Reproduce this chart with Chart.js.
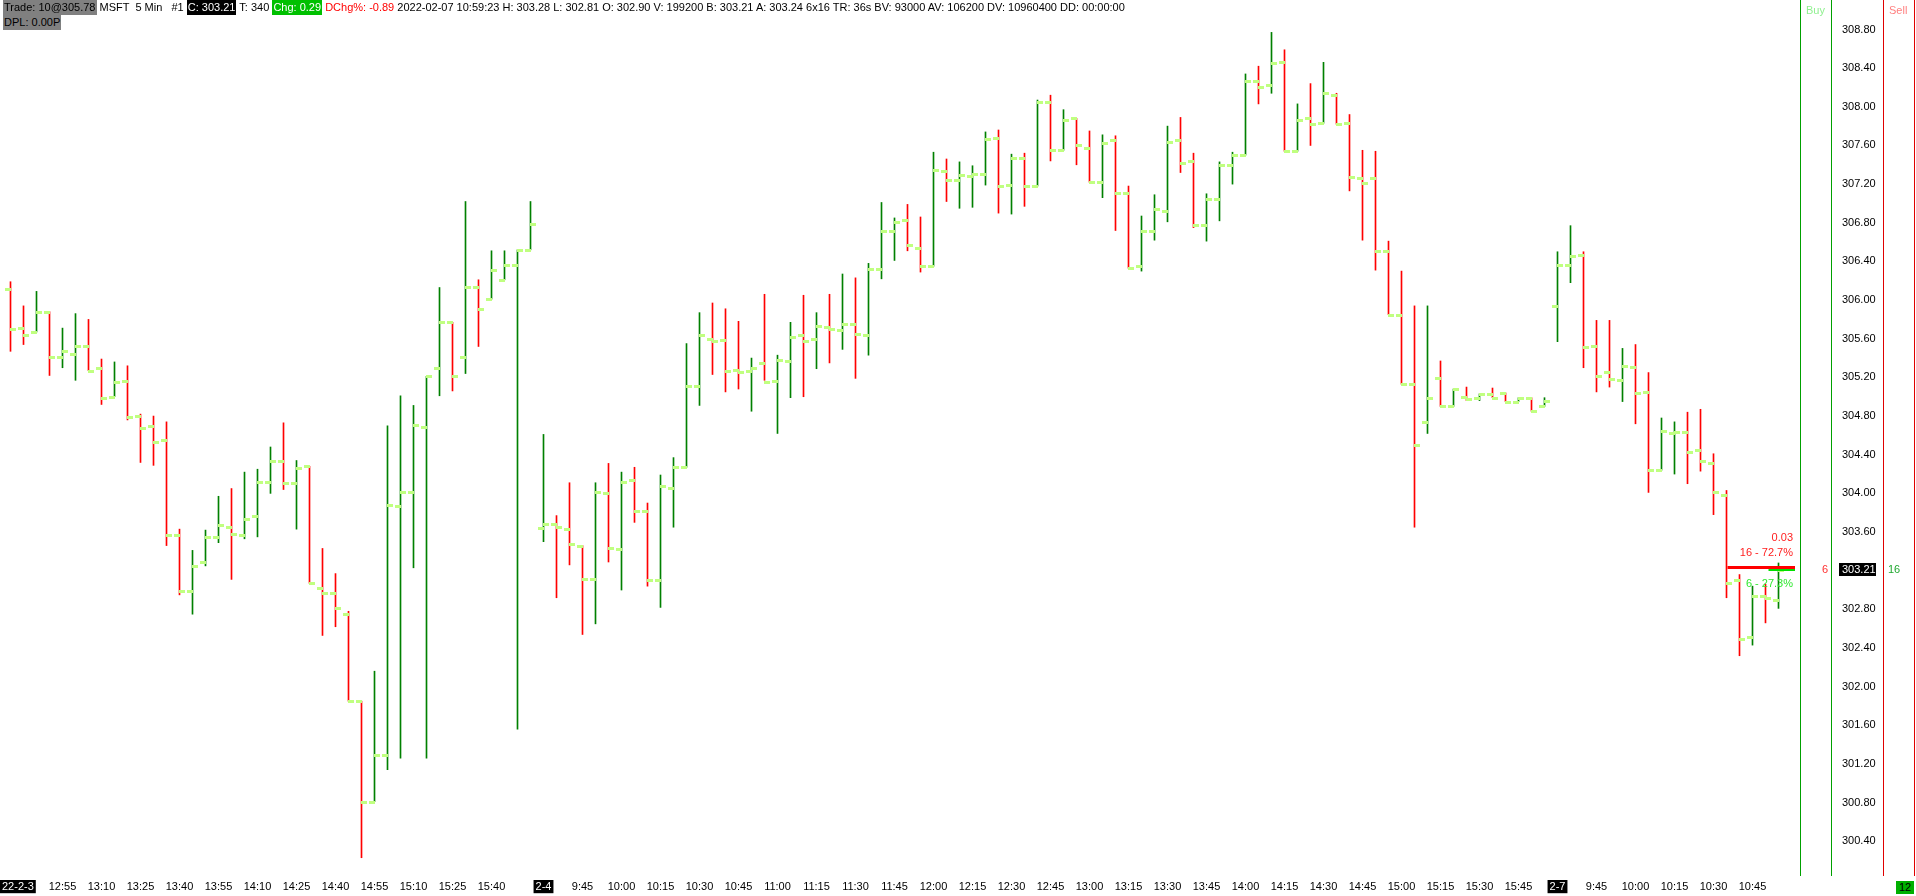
<!DOCTYPE html>
<html>
<head>
<meta charset="utf-8">
<title>MSFT 5 Min</title>
<script src="https://cdn.jsdelivr.net/npm/chart.js@4.4.1/dist/chart.umd.min.js"></script>
<style>
  html, body { margin: 0; padding: 0; background: #fff; }
  #wrap { position: relative; width: 1916px; height: 896px; overflow: hidden;
          font-family: 'Liberation Sans', Arial, sans-serif; font-size: 11px; }
  #wrap canvas { position: absolute; left: 0; top: 0; }
  .hdr { position: absolute; left: 3px; white-space: pre; line-height: 15px; height: 15px; color: #000; z-index: 2; }
  .box { display: inline-block; height: 15px; line-height: 15px; padding: 0 1px; }
  .gy { background: #808080; }
  .bk { background: #000; color: #fff; }
  .gn { background: #00c000; color: #fff; }
  .rd { color: #ff0000; }
  .vl { position: absolute; top: 0; width: 1px; height: 876px; z-index: 2; }
  .lbl { position: absolute; top: 4px; z-index: 2; }
</style>
</head>
<body>
<div id="wrap">
  <canvas id="ohlcChart"></canvas>
  <div class="hdr" style="top:0"><span class="box gy">Trade: 10@305.78</span> MSFT  5 Min   #1 <span class="box bk">C: 303.21</span> T: 340 <span class="box gn">Chg: 0.29</span> <span class="rd">DChg%: -0.89</span> 2022-02-07 10:59:23 H: 303.28 L: 302.81 O: 302.90 V: 199200 B: 303.21 A: 303.24 6x16 TR: 36s BV: 93000 AV: 106200 DV: 10960400 DD: 00:00:00</div>
  <div class="hdr" style="top:15px"><span class="box gy">DPL: 0.00P</span></div>
  <div class="vl" style="left:1800px;background:#00a000"></div>
  <div class="vl" style="left:1831px;background:#00a000"></div>
  <div class="vl" style="left:1883px;background:#e00000"></div>
  <div class="vl" style="left:1914px;background:#e00000"></div>
  <div class="lbl" style="left:1806px;color:#90f090">Buy</div>
  <div class="lbl" style="left:1889px;color:#ff8080">Sell</div>
  <div style="position:absolute;left:1896px;top:881px;width:18px;height:13px;line-height:13px;background:#00b000;color:#000;text-align:center;z-index:2">12</div>
</div>
<script>
// 5 min bars: 2022-02-03 12:35-15:55, 2022-02-04 9:30-15:55, 2022-02-07 9:30-10:55
const opens = [
  306.11, 305.71, 305.67, 305.88, 305.41, 305.44, 305.52, 305.30, 305.00, 305.16,
  304.80, 304.70, 304.55, 303.57, 302.99, 303.29, 303.55, 303.65, 303.57, 303.77,
  304.12, 304.34, 304.11, 304.28, 303.02, 302.97, 302.75, 301.85, 300.81, 301.29,
  303.87, 304.01, 304.69, 305.30, 305.77, 305.41, 306.14, 306.01, 306.21, 306.36,
  306.52,
  303.64, 303.68, 303.63, 303.46, 303.11, 304.00, 303.42, 304.14, 303.82, 303.10,
  304.06, 304.27, 305.11, 305.60, 305.59, 305.28, 305.27, 305.35, 305.16, 305.37,
  305.64, 305.60, 305.72, 305.69, 305.75, 305.64, 306.32, 306.72, 306.83, 306.54,
  306.35, 307.34, 307.24, 307.28, 307.30, 307.68, 307.19, 307.47, 307.18, 308.05,
  307.55, 307.88, 307.57, 307.22, 307.66, 307.11, 306.35, 306.71, 306.92, 307.66,
  307.44, 306.78, 307.05, 307.40, 307.50, 308.27, 308.23, 308.46, 307.54, 307.88,
  307.83, 308.12, 307.83, 307.26, 307.26, 306.51, 305.85, 305.13, 304.74, 305.19,
  304.90, 305.00, 304.99, 305.03, 305.04, 304.95, 304.99, 304.90,
  305.94, 306.36, 306.47, 305.53, 305.26, 305.17, 305.31, 305.05, 304.24, 304.62,
  304.64, 304.45, 304.31, 303.98, 303.10, 302.51, 302.94, 302.90
];
const highs = [
  306.19, 305.94, 306.09, 305.88, 305.71, 305.86, 305.80, 305.39, 305.36, 305.32,
  304.82, 304.80, 304.74, 303.63, 303.41, 303.62, 303.97, 304.05, 304.22, 304.25,
  304.48, 304.73, 304.34, 304.28, 303.43, 303.17, 302.78, 301.85, 302.16, 304.70,
  305.01, 304.91, 305.21, 306.13, 305.77, 307.02, 306.21, 306.51, 306.51, 306.52,
  307.02,
  304.61, 303.77, 304.11, 303.46, 304.11, 304.31, 304.22, 304.27, 303.90, 304.19,
  304.37, 305.55, 305.87, 305.97, 305.91, 305.78, 305.40, 306.06, 305.43, 305.77,
  306.05, 305.87, 306.06, 306.27, 306.23, 306.38, 307.01, 306.85, 306.99, 306.86,
  307.53, 307.46, 307.43, 307.39, 307.74, 307.76, 307.51, 307.52, 308.07, 308.12,
  307.97, 307.88, 307.75, 307.71, 307.70, 307.18, 306.87, 307.09, 307.80, 307.89,
  307.52, 307.10, 307.43, 307.53, 308.34, 308.42, 308.77, 308.59, 308.03, 308.24,
  308.46, 308.14, 307.92, 307.55, 307.54, 306.61, 306.30, 305.94, 305.94, 305.37,
  305.08, 305.10, 305.03, 305.09, 305.04, 304.99, 304.99, 304.99,
  306.50, 306.77, 306.50, 305.79, 305.79, 305.50, 305.54, 305.25, 304.78, 304.74,
  304.84, 304.87, 304.41, 304.03, 303.16, 303.04, 303.06, 303.28
];
const lows = [
  305.47, 305.54, 305.67, 305.22, 305.30, 305.17, 305.27, 304.92, 305.00, 304.76,
  304.32, 304.29, 303.46, 302.95, 302.75, 303.25, 303.49, 303.11, 303.53, 303.55,
  304.00, 304.04, 303.63, 303.07, 302.53, 302.62, 301.85, 300.23, 300.81, 301.14,
  301.26, 303.23, 301.26, 305.01, 305.06, 305.24, 305.52, 306.01, 306.21, 301.56,
  306.52,
  303.50, 302.92, 303.26, 302.54, 302.65, 303.29, 303.00, 303.70, 303.04, 302.82,
  303.65, 304.27, 304.91, 305.23, 305.05, 305.08, 304.85, 305.17, 304.62, 304.99,
  305.00, 305.29, 305.35, 305.49, 305.19, 305.43, 306.22, 306.41, 306.51, 306.29,
  306.35, 307.02, 306.95, 306.96, 307.19, 306.90, 306.89, 306.97, 307.18, 307.44,
  307.55, 307.40, 307.22, 307.06, 306.72, 306.33, 306.30, 306.62, 306.81, 307.32,
  306.75, 306.61, 306.82, 307.20, 307.50, 308.03, 308.14, 307.54, 307.54, 307.60,
  307.83, 307.82, 307.13, 306.62, 306.31, 305.85, 305.13, 303.65, 304.62, 304.90,
  304.90, 304.96, 304.96, 304.99, 304.95, 304.95, 304.85, 304.90,
  305.57, 306.18, 305.30, 305.05, 305.10, 304.95, 304.72, 304.01, 304.24, 304.20,
  304.10, 304.23, 303.78, 302.92, 302.32, 302.43, 302.66, 302.81
];
const closes = [
  305.70, 305.64, 305.88, 305.41, 305.47, 305.53, 305.27, 304.99, 305.15, 304.79,
  304.68, 304.53, 303.57, 302.99, 303.25, 303.55, 303.67, 303.58, 303.74, 304.12,
  304.34, 304.11, 304.26, 303.07, 302.97, 302.81, 301.85, 300.81, 301.29, 303.88,
  304.01, 304.71, 305.21, 305.77, 305.21, 306.14, 305.91, 306.31, 306.36, 306.52,
  306.79,
  303.68, 303.65, 303.48, 303.11, 304.01, 303.43, 304.12, 303.82, 303.10, 304.08,
  304.27, 305.11, 305.64, 305.58, 305.27, 305.26, 305.30, 305.15, 305.38, 305.62,
  305.58, 305.73, 305.70, 305.75, 305.65, 306.32, 306.72, 306.81, 306.57, 306.35,
  307.35, 307.24, 307.29, 307.30, 307.67, 307.18, 307.47, 307.18, 308.05, 307.55,
  307.86, 307.60, 307.22, 307.63, 307.11, 306.33, 306.71, 306.94, 307.64, 307.42,
  306.78, 307.05, 307.40, 307.50, 308.27, 308.21, 308.45, 307.54, 307.86, 307.82,
  308.14, 307.82, 307.27, 307.21, 306.51, 305.85, 305.13, 304.50, 304.99, 304.90,
  305.08, 304.98, 305.03, 304.99, 304.95, 304.99, 304.85, 304.96,
  306.36, 306.46, 305.51, 305.21, 305.18, 305.32, 305.04, 304.24, 304.65, 304.64,
  304.43, 304.34, 304.01, 303.07, 302.49, 302.94, 302.92, 303.21
];

// bottom axis labels (bar index -> text)
const xTickIndex = [0, 4, 7, 10, 13, 16, 19, 22, 25, 28, 31, 34, 37,
  41, 44, 47, 50, 53, 56, 59, 62, 65, 68, 71, 74, 77, 80, 83, 86, 89, 92, 95, 98, 101, 104, 107, 110, 113, 116,
  119, 122, 125, 128, 131, 134];
const xTickText = ['22-2-3', '12:55', '13:10', '13:25', '13:40', '13:55', '14:10', '14:25', '14:40', '14:55', '15:10', '15:25', '15:40',
  '2-4', '9:45', '10:00', '10:15', '10:30', '10:45', '11:00', '11:15', '11:30', '11:45', '12:00', '12:15', '12:30', '12:45',
  '13:00', '13:15', '13:30', '13:45', '14:00', '14:15', '14:30', '14:45', '15:00', '15:15', '15:30', '15:45',
  '2-7', '9:45', '10:00', '10:15', '10:30', '10:45'];
const dateTicks = ['22-2-3', '2-4', '2-7'];

// right price axis
const yTicks = [300.40, 300.80, 301.20, 301.60, 302.00, 302.40, 302.80, 303.20, 303.60, 304.00, 304.40,
  304.80, 305.20, 305.60, 306.00, 306.40, 306.80, 307.20, 307.60, 308.00, 308.40, 308.80];

// current quote
const lastPrice = 303.21;
const askPrice = 303.24;
const bidSize = 6;
const askSize = 16;

const upColor = '#008000';
const downColor = '#ff0000';
const tickColor = '#c0ff80';

// open tick to the left, close tick to the right of each bar
const ohlcTicks = {
  id: 'ohlcTicks',
  afterDatasetsDraw(chart) {
    const meta = chart.getDatasetMeta(0);
    const y = chart.scales.y;
    const ctx = chart.ctx;
    ctx.save();
    ctx.fillStyle = tickColor;
    meta.data.forEach((bar, i) => {
      const left = Math.round(bar.x - 0.5);
      ctx.fillRect(left - 5, Math.round(y.getPixelForValue(opens[i])) - 1, 6, 3);
      ctx.fillRect(left, Math.round(y.getPixelForValue(closes[i])) - 1, 6, 3);
    });
    ctx.restore();
  }
};

// keep the first date label inside the canvas
const clampFirstLabel = {
  id: 'clampFirstLabel',
  beforeDraw(chart) {
    const items = chart.scales.x.getLabelItems();
    const first = items[0];
    if (!first) return;
    const ctx = chart.ctx;
    ctx.save();
    ctx.font = first.font.string;
    const half = ctx.measureText(first.label).width / 2;
    ctx.restore();
    if (first.options.translation[0] < half + 2) first.options.translation[0] = half + 2;
  }
};

const quoteMarks = {
  id: 'quoteMarks',
  afterDraw(chart) {
    const {ctx, chartArea, scales: {x, y}} = chart;
    const yAsk = Math.round(y.getPixelForValue(askPrice));
    const yLast = Math.round(y.getPixelForValue(lastPrice));
    const right = chartArea.right - 5;
    const total = bidSize + askSize;
    ctx.save();
    // ask line and last price line
    const askFrom = x.getPixelForValue(opens.length - 5) + 1;
    ctx.fillStyle = '#ff0000';
    ctx.fillRect(askFrom, yAsk - 1, right - askFrom, 3);
    const lastFrom = x.getPixelForValue(opens.length - 2) + 3;
    ctx.fillStyle = '#00e000';
    ctx.fillRect(lastFrom, yLast - 1, right - lastFrom, 2);

    ctx.font = '11px "Liberation Sans", Arial, sans-serif';
    ctx.textBaseline = 'middle';
    ctx.textAlign = 'right';
    ctx.fillStyle = '#ff2020';
    ctx.fillText((askPrice - lastPrice).toFixed(2), right - 2, yAsk - 29);
    ctx.fillText(askSize + ' - ' + (askSize / total * 100).toFixed(1) + '%', right - 2, yAsk - 14);
    ctx.fillStyle = '#30e830';
    ctx.fillText(bidSize + ' - ' + (bidSize / total * 100).toFixed(1) + '%', right - 2, yAsk + 17);

    // sizes in buy / sell columns
    ctx.fillStyle = '#ff3030';
    ctx.fillText(String(bidSize), chartArea.right + 28, yLast);
    ctx.textAlign = 'left';
    ctx.fillStyle = '#20a830';
    ctx.fillText(String(askSize), chartArea.right + 88, yLast);

    // last price marker on the axis
    ctx.fillStyle = '#000';
    ctx.fillRect(chartArea.right + 39, yLast - 7, 37, 13);
    ctx.fillStyle = '#fff';
    ctx.fillText(lastPrice.toFixed(2), chartArea.right + 42, yLast);
    ctx.restore();
  }
};

// no automatic padding around the plot
const noPad = scale => {
  scale.paddingLeft = 0;
  scale.paddingRight = 0;
  scale.paddingTop = 0;
  scale.paddingBottom = 0;
};

Chart.defaults.font.family = '"Liberation Sans", Arial, sans-serif';
Chart.defaults.font.size = 11;
Chart.defaults.color = '#000';

const ctx = document.getElementById('ohlcChart');

const chartConfig = {
  type: 'bar',
  data: {
    datasets: [{
      label: 'MSFT',
      data: lows.map((low, i) => ({x: i, y: [low, highs[i]]})),
      backgroundColor: closes.map((c, i) => c >= opens[i] ? upColor : downColor),
      borderWidth: 0,
      barThickness: 1
    }]
  },
  options: {
    responsive: true,
    maintainAspectRatio: false,
    animation: false,
    layout: { padding: 0, autoPadding: false },
    plugins: {
      legend: { display: false },
      tooltip: { enabled: false }
    },
    scales: {
      x: {
        type: 'linear',
        offset: false,
        min: -10.5 / 13,
        max: 1789.5 / 13,
        grid: { display: false, drawTicks: false },
        border: { display: false },
        afterBuildTicks: scale => { scale.ticks = xTickIndex.map(v => ({value: v})); },
        afterFit: scale => { scale.height = 20; noPad(scale); },
        ticks: {
          autoSkip: false,
          maxRotation: 0,
          minRotation: 0,
          padding: 4,
          callback: value => xTickText[xTickIndex.indexOf(value)],
          color: c => dateTicks.includes(xTickText[c.index]) ? '#fff' : '#000',
          showLabelBackdrop: c => dateTicks.includes(xTickText[c.index]),
          backdropColor: '#000',
          backdropPadding: { left: 2, right: 2, top: 0, bottom: 0 }
        }
      },
      y: {
        type: 'linear',
        position: 'right',
        min: 308.8 - 876.5 / 96.7 + 29.5 / 96.7,
        max: 308.8 + 29.5 / 96.7,
        beginAtZero: false,
        grid: { display: false, drawTicks: false },
        border: { display: false },
        afterBuildTicks: scale => { scale.ticks = yTicks.map(v => ({value: v})); },
        afterFit: scale => { scale.width = 116; noPad(scale); },
        ticks: {
          padding: 42,
          color: '#000',
          callback: value => value.toFixed(2)
        }
      }
    }
  },
  plugins: [ohlcTicks, clampFirstLabel, quoteMarks]
};

const ohlcChart = new Chart(ctx, chartConfig);
</script>
</body>
</html>
